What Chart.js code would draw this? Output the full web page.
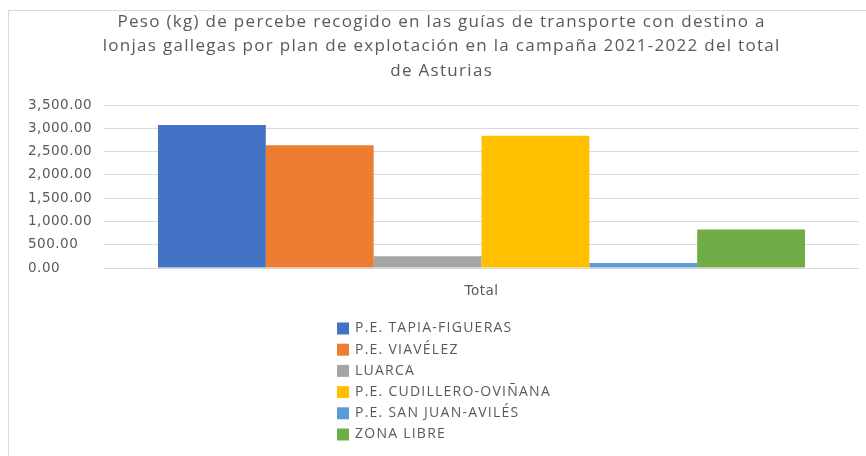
<!DOCTYPE html>
<html><head><meta charset="utf-8">
<script src="https://cdn.jsdelivr.net/npm/chart.js@4"></script>
<style>html,body{margin:0;padding:0;background:#fff;}#wrap{width:866px;height:456px;}</style>
</head><body><div id="wrap"><canvas id="c" width="866" height="456"></canvas></div>
<script>
const titleLines = ["Peso (kg) de percebe recogido en las guías de transporte con destino a","lonjas gallegas por plan de explotación en la campaña 2021-2022 del total","de Asturias"];
const categories = ["Total"];
const seriesNames = ["P.E. TAPIA-FIGUERAS","P.E. VIAVÉLEZ","LUARCA","P.E. CUDILLERO-OVIÑANA","P.E. SAN JUAN-AVILÉS","ZONA LIBRE"];
const seriesValues = [3070, 2638, 252, 2840, 110, 826];
const seriesColors = ["#4472C4","#ED7D31","#A5A5A5","#FFC000","#5B9BD5","#70AD47"];
const yTicks = [0,500,1000,1500,2000,2500,3000,3500];

const textColor = "#595959";
const fmt = v => v.toLocaleString("en-US",{minimumFractionDigits:2,maximumFractionDigits:2});

function fitSpacing(ctx, text, target){
  ctx.letterSpacing = "0px";
  const w = ctx.measureText(text).width;
  return Math.max(0, (target - w) / text.length);
}

const decor = {
  id: "decor",
  beforeDraw(chart){
    const ctx = chart.ctx;
    ctx.save();
    ctx.fillStyle = "#fff";
    ctx.fillRect(0,0,chart.width,chart.height);
    ctx.strokeStyle = "#d9d9d9";
    ctx.lineWidth = 1;
    ctx.strokeRect(8.5,10.5,chart.width,chart.height);
    ctx.restore();
    ctx.letterSpacing = "0.5px";
  },
  afterDraw(chart){
    const ctx = chart.ctx;
    ctx.letterSpacing = "0px";
    ctx.save();
    // title
    ctx.font = "17px 'Open Sans'";
    const ts = fitSpacing(ctx, titleLines[1], 678);
    ctx.letterSpacing = ts + "px";
    ctx.fillStyle = textColor;
    ctx.textAlign = "center";
    ctx.textBaseline = "middle";
    titleLines.forEach((t,i)=>ctx.fillText(t, 441 + ts/2, 22 + i*24.5));
    // legend
    ctx.font = "14px 'Open Sans'";
    const ls = fitSpacing(ctx, seriesNames[3], 196);
    ctx.letterSpacing = ls + "px";
    ctx.textAlign = "left";
    chart.data.datasets.forEach((ds,i)=>{
      const y = 328.5 + i*21.2;
      ctx.fillStyle = ds.backgroundColor;
      ctx.fillRect(337, y-6, 12, 12);
      ctx.fillStyle = textColor;
      ctx.fillText(ds.label, 355, y);
    });
    ctx.restore();
    ctx.letterSpacing = "0px";
  }
};

new Chart(document.getElementById("c"), {
  type: "bar",
  data: {
    labels: categories,
    datasets: seriesNames.map((n,i)=>({label:n, data:[seriesValues[i]], backgroundColor:seriesColors[i], borderWidth:0}))
  },
  options: {
    responsive:false, animation:false,
    layout:{padding:{left:28,right:7,top:105,bottom:148}},
    datasets:{bar:{barPercentage:1, categoryPercentage:0.857}},
    plugins:{
      legend:{display:false},
      tooltip:{enabled:false},
      title:{display:false}
    },
    scales:{
      x:{grid:{display:false}, border:{display:false},
         ticks:{color:textColor, font:{family:"DejaVu Sans", size:13.5}, padding:7},
         afterFit(s){s.height=40;}},
      y:{min:0,max:3500, afterBuildTicks(s){s.ticks = yTicks.map(v=>({value:v}));},
         grid:{color:"#d9d9d9", drawTicks:false}, border:{display:false},
         ticks:{color:textColor, font:{family:"DejaVu Sans", size:13.5}, padding:11, crossAlign:"far", callback:v=>fmt(v)},
         afterFit(s){s.width=76;}}
    }
  },
  plugins:[decor]
});
</script></body></html>
